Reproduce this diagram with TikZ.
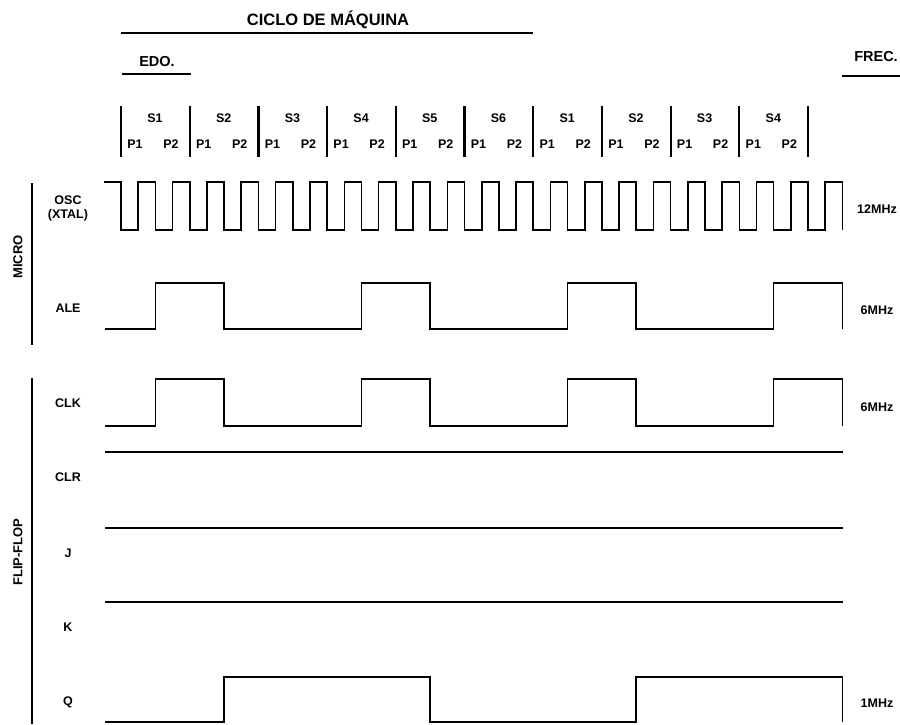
\documentclass[tikz,border=0pt]{standalone}
\usepackage{fontspec}
\setmainfont{Liberation Sans}
\usetikzlibrary{positioning}

\begin{document}
\begin{tikzpicture}[x=1pt, y=-1pt,
    wave/.style={line width=1.6pt, line join=miter},
    thickbar/.style={line width=2.6pt},
    lbl/.style={font=\fontsize{12.5}{14}\selectfont\bfseries},
    hdr/.style={font=\fontsize{14.5}{16}\selectfont\bfseries}]
    \useasboundingbox (0,0) rectangle (900,724);

    % header
    \node[font=\fontsize{16.5}{18}\selectfont\bfseries] (ciclo) at (328,20) {CICLO DE MÁQUINA};
    \draw[thickbar] (121,33) -- (533,33);
    \node[hdr] (edo) at (157,62) {EDO.};
    \draw[thickbar] (122,74) -- (191,74);
    \node[hdr] (frec) at (876,57) {FREC.};
    \draw[thickbar] (842,76) -- (900,76);

    % states and phases
    \foreach \k in {0,...,10}
        \draw[line width=2.2pt] ({121+68.7*\k},106) -- ({121+68.7*\k},157);
    \foreach \s [count=\k from 0] in {1,2,3,4,5,6,1,2,3,4} {
        \node[lbl] (s\k) at ({155+68.7*\k},118) {S\s};
        \node[lbl] (pa\k) at ({135+68.7*\k},144) {P1};
        \node[lbl] (pb\k) at ({171+68.7*\k},144) {P2};
    }

    % MICRO
    \draw[thickbar] (32,183) -- (32,345);
    \node[lbl, font=\fontsize{13}{14}\selectfont\bfseries, rotate=90] (micro) at (18,257) {MICRO};
    \node[lbl, align=center] (osc) at (68,208) {OSC\\(XTAL)};
    \node[lbl] (ale) at (68,308) {ALE};

    \draw[wave] (104,182) \foreach \k in {0,...,20} {
        -- ({121+34.35*\k},182) -- ({121+34.35*\k},230)
        -- ({138.2+34.35*\k},230) -- ({138.2+34.35*\k},182) }
        -- (842.4,182) -- (842.4,230);
    \draw[wave] (105,329) \foreach \r/\f in {1/3,7/9,13/15,19/21} {
        -- ({121+34.35*\r},329) -- ({121+34.35*\r},283)
        -- ({121+34.35*\f},283) -- ({121+34.35*\f},329) };

    \node[lbl] (f12) at (877,209) {12MHz};
    \node[lbl] (f6a) at (877,310) {6MHz};

    % FLIP-FLOP
    \draw[thickbar] (32,378) -- (32,724);
    \node[lbl, font=\fontsize{13}{14}\selectfont\bfseries, rotate=90] (ff) at (18,552) {FLIP-FLOP};
    \node[lbl] (clk) at (68,403) {CLK};
    \node[lbl] (clr) at (68,477) {CLR};
    \node[lbl] (j) at (68,553) {J};
    \node[lbl] (k) at (68,627) {K};
    \node[lbl] (q) at (68,702) {Q};

    \draw[wave] (105,426) \foreach \r/\f in {1/3,7/9,13/15,19/21} {
        -- ({121+34.35*\r},426) -- ({121+34.35*\r},379)
        -- ({121+34.35*\f},379) -- ({121+34.35*\f},426) };
    \draw[wave] (105,452) -- (843,452);
    \draw[wave] (105,528) -- (843,528);
    \draw[wave] (105,602) -- (843,602);
    \draw[wave] (105,722) \foreach \r/\f in {3/9,15/21} {
        -- ({121+34.35*\r},722) -- ({121+34.35*\r},677)
        -- ({121+34.35*\f},677) -- ({121+34.35*\f},722) };

    \node[lbl] (f6b) at (877,407) {6MHz};
    \node[lbl] (f1) at (877,703) {1MHz};
\end{tikzpicture}
\end{document}
